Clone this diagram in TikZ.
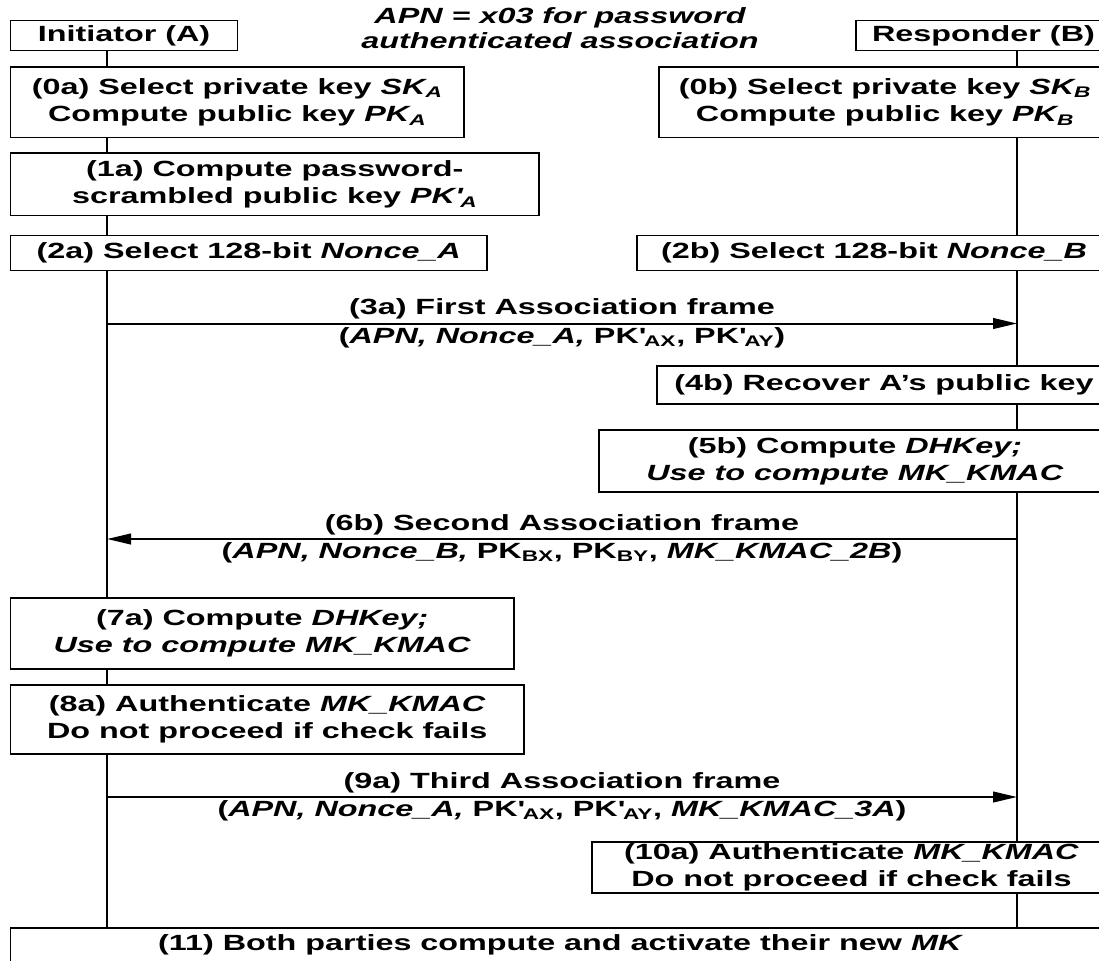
\documentclass[tikz,border=0pt]{standalone}
\usepackage{fontspec}
\setmainfont{Liberation Sans}[FakeStretch=1.47]
\usepackage{tikz}
\usetikzlibrary{arrows.meta,backgrounds}

\newcommand{\stepfont}{\fontsize{16.5}{20.5}\selectfont\bfseries}
\newcommand{\pkq}{PK\textquotesingle}

\tikzset{
  stepbox/.style={draw, fill=white, line width=1pt, align=center, inner sep=0pt, font=\stepfont},
  msglabel/.style={align=center, inner sep=0pt, font=\stepfont},
  lifeline/.style={line width=1pt},
  msgarrow/.style={line width=1.5pt, -{Triangle[length=18pt,width=8pt]}}
}

\begin{document}
\begin{tikzpicture}[x=0.75pt,y=0.75pt,yscale=-1,xscale=1]
\useasboundingbox (0,0) rectangle (1099,960);
\clip (0,0) rectangle (1099,960);

% Text Node
\node[msglabel, font=\fontsize{16.5}{18.75}\selectfont\bfseries\itshape] (apn) at (560,28) {APN = x03 for password\\authenticated association};

%Shape: Rectangle
\node[stepbox, minimum width=170.6pt, minimum height=22.5pt] (ini) at (124,35.5) {Initiator (A)};
%Shape: Rectangle
\node[stepbox, minimum width=191.3pt, minimum height=22.5pt] (resp) at (983.5,35.5) {Responder (B)};

%Shape: Rectangle
\node[stepbox, minimum width=340.1pt, minimum height=52.9pt] (s0a) at (237.25,102.25) {(0a) Select private key \textit{SK\textsubscript{A}}\\Compute public key \textit{PK\textsubscript{A}}};
%Shape: Rectangle
\node[stepbox, minimum width=339pt, minimum height=52.9pt] (s0b) at (885,102.25) {(0b) Select private key \textit{SK\textsubscript{B}}\\Compute public key \textit{PK\textsubscript{B}}};
%Shape: Rectangle
\node[stepbox, minimum width=396.4pt, minimum height=46.9pt] (s1a) at (274.75,184.25) {(1a) Compute password-\\scrambled public key \textit{\pkq\textsubscript{A}}};
%Shape: Rectangle
\node[stepbox, minimum width=357.4pt, minimum height=26.25pt] (s2a) at (248.75,253) {(2a) Select 128-bit \textit{Nonce\_A}};
%Shape: Rectangle
\node[stepbox, minimum width=355.5pt, minimum height=26.25pt] (s2b) at (874,253) {(2b) Select 128-bit \textit{Nonce\_B}};
%Shape: Rectangle
\node[stepbox, minimum width=340.5pt, minimum height=28.5pt] (s4b) at (884,385) {(4b) Recover A's public key};
%Shape: Rectangle
\node[stepbox, minimum width=384pt, minimum height=46.5pt] (s5b) at (855,461) {(5b) Compute \textit{DHKey;}\\\textit{Use to compute MK\_KMAC}};
%Shape: Rectangle
\node[stepbox, minimum width=377.6pt, minimum height=53.25pt] (s7a) at (262.25,633.5) {(7a) Compute \textit{DHKey;}\\\textit{Use to compute MK\_KMAC}};
%Shape: Rectangle
\node[stepbox, minimum width=385.1pt, minimum height=51.75pt] (s8a) at (267.25,719.5) {(8a) Authenticate \textit{MK\_KMAC}\\Do not proceed if check fails};
%Shape: Rectangle
\node[stepbox, minimum width=389.25pt, minimum height=38.25pt] (s10a) at (851.5,867.5) {(10a) Authenticate \textit{MK\_KMAC}\\Do not proceed if check fails};
%Shape: Rectangle
\node[stepbox, minimum width=825.4pt, minimum height=25.5pt] (s11) at (560.75,945) {(11) Both parties compute and activate their new \textit{MK}};

% lifelines
\coordinate (la) at (107,0);
\coordinate (lb) at (1017,0);
\begin{scope}[on background layer]
\draw[lifeline] (ini.south -| la) -- (s11.north -| la);
\draw[lifeline] (resp.south -| lb) -- (s11.north -| lb);
\end{scope}

%Straight Lines
\coordinate (a3) at (107,323.5);
\coordinate (b3) at (1017,323.5);
\draw[msgarrow] (a3) -- (b3);
\node[msglabel] (m3a) at (562,309) {(3a) First Association frame};
\node[msglabel] (m3b) at (562,337.5) {(\textit{APN, Nonce\_A,} \pkq\textsubscript{AX}, \pkq\textsubscript{AY})};

%Straight Lines
\coordinate (a6) at (107,539);
\coordinate (b6) at (1017,539);
\draw[msgarrow] (b6) -- (a6);
\node[msglabel] (m6a) at (562,525) {(6b) Second Association frame};
\node[msglabel] (m6b) at (562,552.5) {(\textit{APN, Nonce\_B,} PK\textsubscript{BX}, PK\textsubscript{BY}, \textit{MK\_KMAC\_2B})};

%Straight Lines
\coordinate (a9) at (107,797);
\coordinate (b9) at (1017,797);
\draw[msgarrow] (a9) -- (b9);
\node[msglabel] (m9a) at (562,783) {(9a) Third Association frame};
\node[msglabel] (m9b) at (562,810.5) {(\textit{APN, Nonce\_A,} \pkq\textsubscript{AX}, \pkq\textsubscript{AY}, \textit{MK\_KMAC\_3A})};

\end{tikzpicture}
\end{document}
